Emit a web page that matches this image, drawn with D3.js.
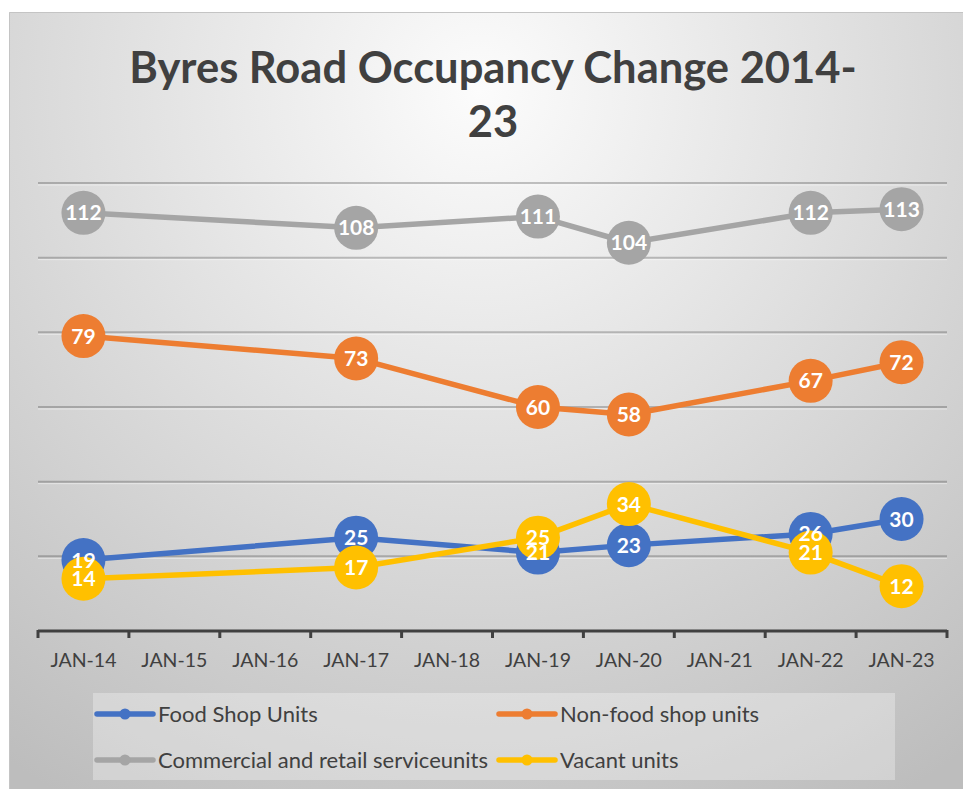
<!DOCTYPE html>
<html>
<head>
<meta charset="utf-8">
<script src="https://cdn.jsdelivr.net/npm/d3@7"></script>
<style>
  body { margin: 0; background: #fff; }
  svg { display: block; font-family: Lato, "Open Sans", sans-serif; }
</style>
</head>
<body>
<div class="chart"></div>
<script>
// chart data
var months = ["JAN-14", "JAN-15", "JAN-16", "JAN-17", "JAN-18", "JAN-19", "JAN-20", "JAN-21", "JAN-22", "JAN-23"];
var seriesNames = ["Food Shop Units", "Non-food shop units", "Commercial and retail serviceunits", "Vacant units"];
var foodShop = [19, null, null, 25, null, 21, 23, null, 26, 30];
var nonFoodShop = [79, null, null, 73, null, 60, 58, null, 67, 72];
var commercial = [112, null, null, 108, null, 111, 104, null, 112, 113];
var vacant = [14, null, null, 17, null, 25, 34, null, 21, 12];
var yTicks = [0, 20, 40, 60, 80, 100, 120];

var colors = ["#4472c4", "#ed7d31", "#a5a5a5", "#ffc000"];
var allSeries = [foodShop, nonFoodShop, commercial, vacant];

var svgWidth = 963;
var svgHeight = 789;

var svg = d3.select(".chart")
  .append("svg")
  .attr("width", svgWidth)
  .attr("height", svgHeight);

// background gradient
var defs = svg.append("defs");
var grad = defs.append("radialGradient")
  .attr("id", "bg")
  .attr("gradientUnits", "userSpaceOnUse")
  .attr("cx", 480).attr("cy", 90)
  .attr("r", 820);
grad.append("stop").attr("offset", "0%").attr("stop-color", "#fcfcfc");
grad.append("stop").attr("offset", "100%").attr("stop-color", "#bdbdbd");

svg.append("rect")
  .attr("x", 9).attr("y", 12)
  .attr("width", svgWidth - 9).attr("height", svgHeight - 12)
  .attr("fill", "url(#bg)");
svg.append("path")
  .attr("d", "M9.5," + svgHeight + "V12.5H" + svgWidth)
  .attr("fill", "none")
  .attr("stroke", "#c4c4c4");

// title
var title = svg.append("text")
  .attr("text-anchor", "middle")
  .attr("fill", "#404040")
  .attr("font-weight", "bold")
  .attr("font-size", 43.5);
title.append("tspan").attr("x", 493).attr("y", 83).text("Byres Road Occupancy Change 2014-");
title.append("tspan").attr("x", 493).attr("y", 137).text("23");

// scales
var x = d3.scaleBand().domain(months).range([38, 947]);
var y = d3.scaleLinear().domain([0, 120]).range([631, 183]);
var cx = function(m) { return x(m) + x.bandwidth() / 2; };

// gridlines
var grid = svg.append("g");
yTicks.filter(function(t) { return t > 0; }).forEach(function(t) {
  grid.append("line")
    .attr("x1", 38).attr("x2", 947)
    .attr("y1", y(t)).attr("y2", y(t))
    .attr("stroke", "#000").attr("stroke-opacity", 0.22).attr("stroke-width", 2);
  grid.append("line")
    .attr("x1", 38).attr("x2", 947)
    .attr("y1", y(t) + 2).attr("y2", y(t) + 2)
    .attr("stroke", "#fff").attr("stroke-opacity", 0.45).attr("stroke-width", 1);
});

// x axis
var bottomAxis = d3.axisBottom(x).tickSize(0).tickPadding(22);
var xAxis = svg.append("g")
  .attr("transform", "translate(0,631)")
  .call(bottomAxis);
xAxis.select(".domain").remove();
xAxis.selectAll("text")
  .attr("font-family", "Lato, sans-serif")
  .attr("font-size", 19.5)
  .attr("fill", "#404040");
xAxis.append("line")
  .attr("x1", 38).attr("x2", 947)
  .attr("stroke", "#404040").attr("stroke-width", 3);
var edges = months.map(function(m) { return x(m); }).concat([947]);
xAxis.selectAll(".edge")
  .data(edges)
  .enter().append("line")
  .attr("class", "edge")
  .attr("x1", function(d) { return d; }).attr("x2", function(d) { return d; })
  .attr("y1", -1).attr("y2", 7)
  .attr("stroke", "#404040").attr("stroke-width", 3);

// lines and markers
var line = d3.line()
  .x(function(d) { return cx(d.month); })
  .y(function(d) { return y(d.value); });

var points = allSeries.map(function(vals) {
  return months.map(function(m, i) { return { month: m, value: vals[i] }; })
    .filter(function(d) { return d.value !== null; });
});

points.forEach(function(pts, i) {
  var g = svg.append("g");
  g.append("path")
    .datum(pts)
    .attr("d", line)
    .attr("fill", "none")
    .attr("stroke", colors[i])
    .attr("stroke-width", 5.5)
    .attr("stroke-linejoin", "round");
  g.selectAll("circle")
    .data(pts)
    .enter().append("circle")
    .attr("cx", function(d) { return cx(d.month); })
    .attr("cy", function(d) { return y(d.value); })
    .attr("r", 22)
    .attr("fill", colors[i]);
});

// data labels on top
points.forEach(function(pts) {
  svg.append("g").selectAll("text")
    .data(pts)
    .enter().append("text")
    .attr("x", function(d) { return cx(d.month); })
    .attr("y", function(d) { return y(d.value); })
    .attr("dy", "0.36em")
    .attr("text-anchor", "middle")
    .attr("fill", "#fff")
    .attr("font-weight", "bold")
    .attr("font-size", 21)
    .text(function(d) { return d.value; });
});

// legend
var legend = svg.append("g");
legend.append("rect")
  .attr("x", 93).attr("y", 693)
  .attr("width", 802).attr("height", 87)
  .attr("fill", "#fff").attr("fill-opacity", 0.3);

var legendPos = [[97, 714], [499, 714], [97, 760], [499, 760]];
seriesNames.forEach(function(name, i) {
  var lx = legendPos[i][0], ly = legendPos[i][1];
  legend.append("line")
    .attr("x1", lx).attr("x2", lx + 56)
    .attr("y1", ly).attr("y2", ly)
    .attr("stroke", colors[i]).attr("stroke-width", 5.5)
    .attr("stroke-linecap", "round");
  legend.append("circle")
    .attr("cx", lx + 28).attr("cy", ly).attr("r", 5.5)
    .attr("fill", colors[i]);
  legend.append("text")
    .attr("x", lx + 61).attr("y", ly)
    .attr("dy", "0.36em")
    .attr("fill", "#404040")
    .attr("font-size", 22)
    .text(name);
});
</script>
</body>
</html>
